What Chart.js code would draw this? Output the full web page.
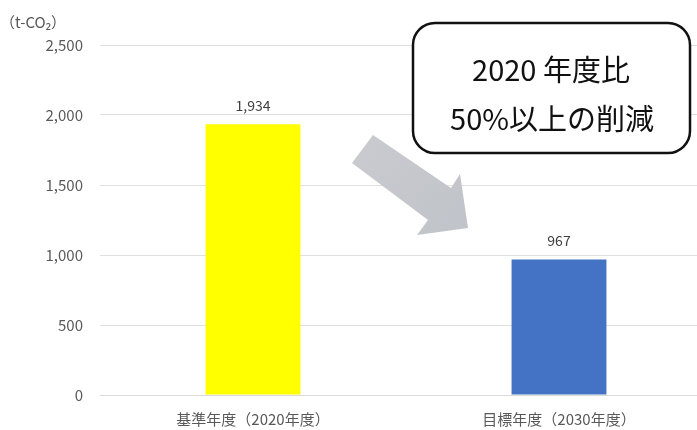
<!DOCTYPE html>
<html>
<head>
<meta charset="utf-8">
<script src="https://cdn.jsdelivr.net/npm/chart.js@4"></script>
<style>
  html, body { margin: 0; padding: 0; background: #fff; overflow: hidden; }
  #wrap { width: 712px; height: 430px; }
</style>
</head>
<body>
<div id="wrap"><canvas id="co2Chart" width="712" height="430"></canvas></div>
<script>
const categories = ['基準年度（2020年度）', '目標年度（2030年度）'];
const emissions = [1934, 967];
const barColors = ['#ffff00', '#4472c4'];
const unitLabel = '（t-CO₂）';
const calloutLines = ['2020 年度比', '50%以上の削減'];

const FONT = "'Noto Sans CJK JP','Noto Sans',sans-serif";
const fmt = (v) => v.toLocaleString('en-US');

// value labels above bars + unit label
const labelPlugin = {
  id: 'barLabels',
  afterDatasetsDraw(chart) {
    const { ctx } = chart;
    const meta = chart.getDatasetMeta(0);
    ctx.save();
    ctx.font = `14px ${FONT}`;
    ctx.fillStyle = '#404040';
    ctx.textAlign = 'center';
    ctx.textBaseline = 'middle';
    meta.data.forEach((bar, i) => {
      ctx.fillText(fmt(emissions[i]), bar.x, bar.y - 19);
    });
    ctx.font = `15px ${FONT}`;
    ctx.fillStyle = '#595959';
    ctx.textAlign = 'left';
    ctx.fillText(unitLabel, 0, 22);
    ctx.restore();
  }
};

// decorative arrow and callout box
const calloutPlugin = {
  id: 'callout',
  afterDraw(chart) {
    const { ctx } = chart;
    ctx.save();
    const pts = [[373,135],[451,188],[460,174],[468,228],[417,235],[428,220],[352,163]];
    const grad = ctx.createLinearGradient(352, 135, 468, 235);
    grad.addColorStop(0, '#c9cbcf');
    grad.addColorStop(1, '#c0c3c9');
    ctx.beginPath();
    pts.forEach(([x, y], i) => i ? ctx.lineTo(x, y) : ctx.moveTo(x, y));
    ctx.closePath();
    ctx.fillStyle = grad;
    ctx.fill();

    ctx.beginPath();
    ctx.roundRect(413, 23, 277, 130, 22);
    ctx.fillStyle = '#fff';
    ctx.fill();
    ctx.lineWidth = 2.5;
    ctx.strokeStyle = '#111';
    ctx.stroke();

    ctx.fillStyle = '#111';
    ctx.font = `29px ${FONT}`;
    ctx.textAlign = 'center';
    ctx.textBaseline = 'middle';
    ctx.fillText(calloutLines[0], 551, 70);
    ctx.fillText(calloutLines[1], 552, 119);
    ctx.restore();
  }
};

new Chart(document.getElementById('co2Chart'), {
  type: 'bar',
  data: {
    labels: categories,
    datasets: [{
      data: emissions,
      backgroundColor: barColors,
      barPercentage: 0.31,
      categoryPercentage: 1
    }]
  },
  options: {
    responsive: false,
    animation: false,
    layout: { padding: { top: 45, left: 0, right: 0, bottom: 0 } },
    plugins: { legend: { display: false }, tooltip: { enabled: false } },
    scales: {
      x: {
        grid: { display: false },
        border: { color: '#d9d9d9', width: 1 },
        ticks: { color: '#595959', font: { family: FONT, size: 15 }, padding: 7 },
        afterFit(scale) { scale.height = 35; }
      },
      y: {
        min: 0,
        max: 2500,
        grid: { color: '#e0e0e0', drawTicks: false },
        border: { display: false },
        ticks: {
          stepSize: 500,
          color: '#595959',
          font: { family: FONT, size: 15 },
          padding: 17,
          callback: (v) => fmt(v)
        },
        afterFit(scale) { scale.width = 100; }
      }
    }
  },
  plugins: [labelPlugin, calloutPlugin]
});
</script>
</body>
</html>
